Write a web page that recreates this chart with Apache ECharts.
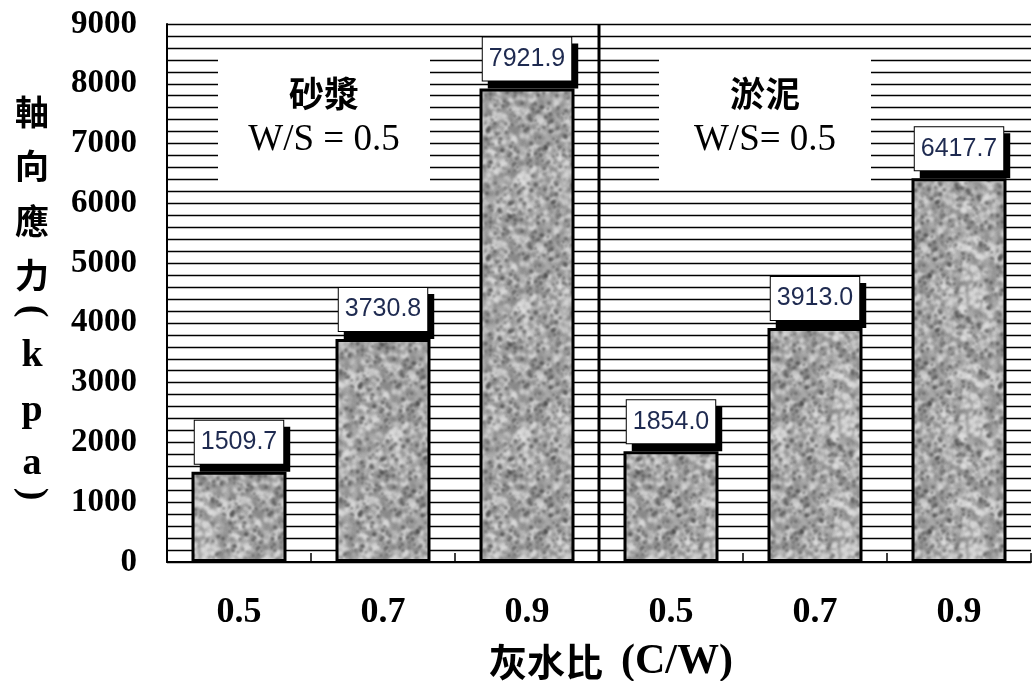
<!DOCTYPE html>
<html>
<head>
<meta charset="utf-8">
<script src="https://cdn.jsdelivr.net/npm/echarts@6/dist/echarts.min.js"></script>
<style>
  html, body { margin: 0; padding: 0; background: #fff; }
  #chart { width: 1032px; height: 681px; }
</style>
</head>
<body>
<div id="chart"></div>
<script>
// Cement/water ratios tested for each soil type
const ratios = ['0.5', '0.7', '0.9'];
// Axial stress (kPa) – mortar (砂漿) and silt (淤泥), W/S = 0.5
const mortarStress = [1509.7, 3730.8, 7921.9];
const siltStress = [1854.0, 3913.0, 6417.7];
// Group captions
const groupNames = ['砂漿', '淤泥'];
const groupNotes = ['W/S = 0.5', 'W/S= 0.5'];
// Y axis range and label step
const yMin = 0, yMax = 9000, yStep = 1000;

const categories = ratios.concat(ratios);
const stress = mortarStress.concat(siltStress);

// Speckled grey stone texture used as the bar fill
function stoneTile(size) {
  const c = document.createElement('canvas');
  c.width = c.height = size;
  const g = c.getContext('2d');
  g.fillStyle = '#aaaaaa';
  g.fillRect(0, 0, size, size);
  let seed = 20240611;
  const next = () => (seed = (seed * 1103515245 + 12345) % 2147483648) / 2147483648;
  const blob = (x, y, r, color) => {
    g.fillStyle = color;
    for (let dx = -size; dx <= size; dx += size) {
      for (let dy = -size; dy <= size; dy += size) {
        g.beginPath();
        g.arc(x + dx, y + dy, r, 0, Math.PI * 2);
        g.fill();
      }
    }
  };
  g.filter = 'blur(1.4px)';
  for (let i = 0; i < 1400; i++) {
    const x = next() * size, y = next() * size, t = next(), r = 1.2 + next() * 2.2;
    blob(x, y, r, t < 0.5 ? 'rgba(225,225,225,0.75)' : 'rgba(130,130,130,0.6)');
  }
  g.filter = 'blur(0.8px)';
  for (let i = 0; i < 420; i++) {
    const x = next() * size, y = next() * size, r = 0.7 + next() * 1.4;
    blob(x, y, r, 'rgba(60,60,60,0.6)');
  }
  return c;
}

const chart = echarts.init(document.getElementById('chart'), null, { renderer: 'canvas' });

const gridLeft = 167, gridTop = 24, gridRight = 1, gridBottom = 119;

const axisTitleChars = [
  { t: '軸', y: 112 }, { t: '向', y: 166 }, { t: '應', y: 221 }, { t: '力', y: 275 },
  { t: '(', y: 311, rot: true }, { t: 'k', y: 356 }, { t: 'p', y: 411 }, { t: 'a', y: 464 },
  { t: ')', y: 494, rot: true }
];

const graphics = [];
axisTitleChars.forEach(ch => {
  const latin = /[a-z()]/.test(ch.t);
  graphics.push({
    type: 'text',
    x: 32, y: ch.y,
    rotation: ch.rot ? -Math.PI / 2 : 0,
    z: 10,
    style: {
      text: ch.t,
      x: 0, y: 0,
      align: 'center', verticalAlign: 'middle',
      fill: '#000',
      font: latin ? 'bold 38px "Liberation Serif"' : 'bold 34px "Noto Sans CJK TC"'
    }
  });
});

// Caption panels that blank out the grid behind each group's label
const panels = [
  { x: 218, w: 212, cx: 324 },
  { x: 659, w: 212, cx: 765 }
];
panels.forEach((p, i) => {
  graphics.push({
    type: 'rect', z: 5,
    shape: { x: p.x, y: 52, width: p.w, height: 134 },
    style: { fill: '#fff' }
  });
  graphics.push({
    type: 'text', z: 6, x: p.cx, y: 94,
    style: {
      text: groupNames[i], align: 'center', verticalAlign: 'middle',
      font: 'bold 35px "Noto Sans CJK TC"', fill: '#000'
    }
  });
  graphics.push({
    type: 'text', z: 6, x: p.cx, y: 140,
    style: {
      text: groupNotes[i], align: 'center', verticalAlign: 'middle',
      font: '37px "Liberation Serif"', fill: '#000'
    }
  });
});

chart.setOption({
  animation: false,
  backgroundColor: '#fff',
  grid: {
    left: gridLeft, top: gridTop, right: gridRight, bottom: gridBottom,
    containLabel: false, outerBoundsMode: 'none'
  },
  xAxis: {
    type: 'category',
    data: categories,
    boundaryGap: true,
    axisLine: { show: true, lineStyle: { color: '#000', width: 2 } },
    axisTick: { show: true, inside: true, length: 9, interval: 0, lineStyle: { color: '#000', width: 1.5 } },
    axisLabel: {
      interval: 0, margin: 33,
      fontFamily: 'Liberation Serif', fontWeight: 'bold', fontSize: 36, color: '#000'
    },
    splitLine: { show: false },
    name: '{c|灰水比}{l|(C/W)}',
    nameLocation: 'middle',
    nameGap: 79,
    nameTextStyle: {
      padding: [0, 0, 0, 24],
      rich: {
        c: { fontFamily: 'Noto Sans CJK TC', fontWeight: 'bold', fontSize: 38, color: '#000', padding: [0, 18, 0, 0] },
        l: { fontFamily: 'Liberation Serif', fontWeight: 'bold', fontSize: 42, color: '#000' }
      }
    }
  },
  yAxis: {
    type: 'value',
    min: yMin, max: yMax, interval: yStep,
    axisLine: { show: true, lineStyle: { color: '#000', width: 2 } },
    axisTick: { show: false },
    axisLabel: {
      margin: 30,
      formatter: (v) => String(v),
      fontFamily: 'Liberation Serif', fontWeight: 'bold', fontSize: 33, color: '#000'
    },
    splitLine: { show: true, lineStyle: { color: '#000', width: 1.4 } },
    minorTick: { show: false, splitNumber: 5 },
    minorSplitLine: { show: true, lineStyle: { color: '#000', width: 1.4 } }
  },
  series: [{
    type: 'bar',
    data: stress,
    barWidth: 95,
    itemStyle: {
      color: { image: stoneTile(128), repeat: 'repeat' },
      borderColor: '#000',
      borderWidth: 3
    },
    label: {
      show: true,
      position: 'top',
      distance: 8,
      formatter: (p) => p.value.toFixed(1),
      fontFamily: 'Liberation Sans',
      fontSize: 25,
      lineHeight: 25,
      color: '#1e2a50',
      backgroundColor: '#fff',
      borderColor: '#000',
      borderWidth: 1,
      padding: [9, 6, 9, 6],
      shadowColor: '#000',
      shadowBlur: 0,
      shadowOffsetX: 6,
      shadowOffsetY: 7
    },
    emphasis: { disabled: true }
  }],
  graphic: graphics
});

// Divider between the two soil groups, placed on the category boundary
const lastLeft = chart.convertToPixel({ xAxisIndex: 0 }, ratios.length - 1);
const firstRight = chart.convertToPixel({ xAxisIndex: 0 }, ratios.length);
const divX = (lastLeft + firstRight) / 2;
const yTop = chart.convertToPixel({ yAxisIndex: 0 }, yMax);
const yBottom = chart.convertToPixel({ yAxisIndex: 0 }, yMin);
chart.setOption({
  graphic: graphics.concat([{
    type: 'line', z: 4,
    shape: { x1: divX, y1: yTop, x2: divX, y2: yBottom },
    style: { stroke: '#000', lineWidth: 3 }
  }])
});
</script>
</body>
</html>
